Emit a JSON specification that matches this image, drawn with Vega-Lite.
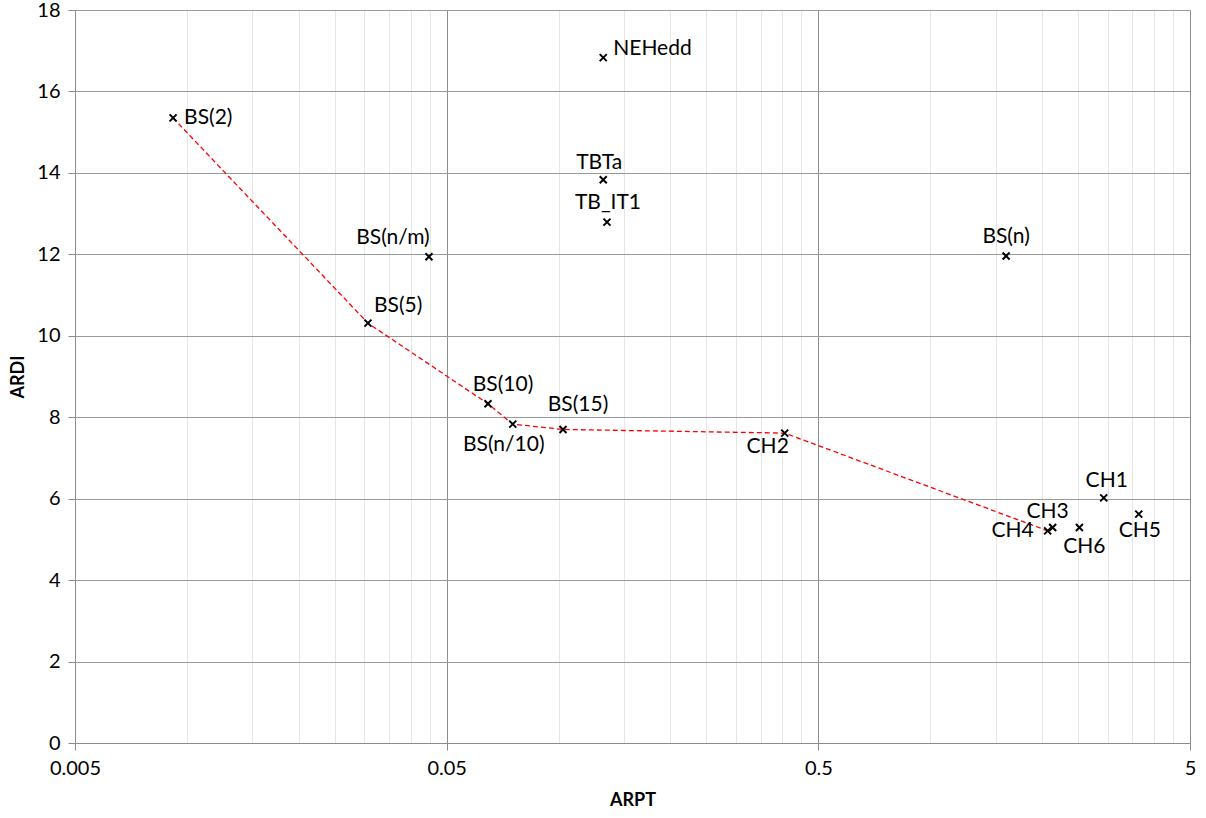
{
  "$schema": "https://vega.github.io/schema/vega-lite/v6.json",
  "width": 1115,
  "height": 733,
  "autosize": {"type": "none"},
  "padding": {"left": 75, "top": 10, "right": 16, "bottom": 75},
  "background": "white",
  "config": {
    "view": {"stroke": null},
    "font": "Lato",
    "text": {"font": "Lato", "fontSize": 21, "color": "#000000", "baseline": "middle", "align": "center"}
  },
  "data": {
    "values": [
      {"name": "BS(2)", "ARPT": 0.00918, "ARDI": 15.35},
      {"name": "BS(5)", "ARPT": 0.0307, "ARDI": 10.31},
      {"name": "BS(n/m)", "ARPT": 0.0448, "ARDI": 11.94},
      {"name": "BS(10)", "ARPT": 0.0646, "ARDI": 8.33},
      {"name": "BS(n/10)", "ARPT": 0.0753, "ARDI": 7.83},
      {"name": "BS(15)", "ARPT": 0.1028, "ARDI": 7.70},
      {"name": "NEHedd", "ARPT": 0.1319, "ARDI": 16.83},
      {"name": "TBTa", "ARPT": 0.1319, "ARDI": 13.83},
      {"name": "TB_IT1", "ARPT": 0.135, "ARDI": 12.79},
      {"name": "CH2", "ARPT": 0.406, "ARDI": 7.61},
      {"name": "BS(n)", "ARPT": 1.60, "ARDI": 11.96},
      {"name": "CH4", "ARPT": 2.07, "ARDI": 5.21},
      {"name": "CH3", "ARPT": 2.135, "ARDI": 5.29},
      {"name": "CH6", "ARPT": 2.52, "ARDI": 5.29},
      {"name": "CH1", "ARPT": 2.93, "ARDI": 6.02},
      {"name": "CH5", "ARPT": 3.64, "ARDI": 5.62}
    ]
  },
  "encoding": {
    "x": {
      "field": "ARPT", "type": "quantitative",
      "scale": {"type": "log", "domain": [0.005, 5], "nice": false, "zero": false},
      "axis": {
        "title": "ARPT",
        "titleFont": "Lato", "titleFontSize": 18, "titleFontWeight": "bold", "titleColor": "#000",
        "titleX": 557.5, "titleY": 57, "titleBaseline": "middle", "titleAlign": "center",
        "values": [0.005, 0.01, 0.015, 0.02, 0.025, 0.03, 0.035, 0.04, 0.045, 0.05, 0.1, 0.15, 0.2, 0.25, 0.3, 0.35, 0.4, 0.45, 0.5, 1, 1.5, 2, 2.5, 3, 3.5, 4, 4.5, 5],
        "labelExpr": "(datum.value == 0.005 || datum.value == 0.05 || datum.value == 0.5 || datum.value == 5) ? ('' + datum.value) : ''",
        "labelFont": "Lato", "labelFontSize": 20, "labelColor": "#000", "labelPadding": 8,
        "labelOverlap": false, "labelFlush": false, "labelBound": false,
        "grid": true,
        "gridColor": {"condition": {"test": "datum.value == 0.005 || datum.value == 0.05 || datum.value == 0.5 || datum.value == 5", "value": "#8c8c8c"}, "value": "#e6e6e6"},
        "gridWidth": 1,
        "tickColor": "#8c8c8c", "tickSize": 7,
        "tickOpacity": {"condition": {"test": "datum.value == 0.005 || datum.value == 0.05 || datum.value == 0.5 || datum.value == 5", "value": 1}, "value": 0},
        "domainColor": "#8c8c8c"
      }
    },
    "y": {
      "field": "ARDI", "type": "quantitative",
      "scale": {"domain": [0, 18], "nice": false},
      "axis": {
        "title": "ARDI",
        "titleFont": "Lato", "titleFontSize": 18, "titleFontWeight": "bold", "titleColor": "#000",
        "titleX": -57, "titleY": 366.5, "titleBaseline": "middle", "titleAlign": "center",
        "values": [0, 2, 4, 6, 8, 10, 12, 14, 16, 18],
        "labelFont": "Lato", "labelFontSize": 20, "labelColor": "#000", "labelPadding": 8,
        "labelOverlap": false, "labelFlush": false,
        "grid": true, "gridColor": "#9a9a9a", "gridWidth": 1,
        "tickColor": "#8c8c8c", "tickSize": 7,
        "domainColor": "#8c8c8c"
      }
    }
  },
  "layer": [
    {
      "transform": [{"filter": {"field": "name", "oneOf": ["BS(2)", "BS(5)", "BS(10)", "BS(n/10)", "BS(15)", "CH2", "CH4"]}}],
      "mark": {"type": "line", "color": "#ff0000", "strokeWidth": 1.3, "strokeDash": [5, 3]},
      "encoding": {}
    },
    {
      "mark": {"type": "point", "shape": "M-1,-1L1,1M-1,1L1,-1", "filled": false, "stroke": "#000000", "strokeWidth": 2, "size": 49, "opacity": 1}
    },
    {"transform": [{"filter": "datum.name == 'BS(2)'"}], "mark": {"type": "text", "align": "left", "dx": 11, "dy": 0}, "encoding": {"text": {"field": "name"}}},
    {"transform": [{"filter": "datum.name == 'NEHedd'"}], "mark": {"type": "text", "align": "left", "dx": 10, "dy": -9}, "encoding": {"text": {"field": "name"}}},
    {"transform": [{"filter": "datum.name == 'BS(5)'"}], "mark": {"type": "text", "align": "left", "dx": 6, "dy": -17}, "encoding": {"text": {"field": "name"}}},
    {"transform": [{"filter": "datum.name == 'BS(10)'"}], "mark": {"type": "text", "dx": 15, "dy": -19}, "encoding": {"text": {"field": "name"}}},
    {"transform": [{"filter": "datum.name == 'BS(15)'"}], "mark": {"type": "text", "dx": 15, "dy": -24}, "encoding": {"text": {"field": "name"}}},
    {"transform": [{"filter": "datum.name == 'BS(n/m)'"}], "mark": {"type": "text", "dx": -36, "dy": -19}, "encoding": {"text": {"field": "name"}}},
    {"transform": [{"filter": "datum.name == 'TBTa'"}], "mark": {"type": "text", "dx": -4, "dy": -17}, "encoding": {"text": {"field": "name"}}},
    {"transform": [{"filter": "datum.name == 'TB_IT1'"}], "mark": {"type": "text", "dx": 1, "dy": -19}, "encoding": {"text": {"field": "name"}}},
    {"transform": [{"filter": "datum.name == 'BS(n)'"}], "mark": {"type": "text", "dx": 0, "dy": -19}, "encoding": {"text": {"field": "name"}}},
    {"transform": [{"filter": "datum.name == 'CH3'"}], "mark": {"type": "text", "dx": -5, "dy": -16}, "encoding": {"text": {"field": "name"}}},
    {"transform": [{"filter": "datum.name == 'CH1'"}], "mark": {"type": "text", "dx": 3, "dy": -17}, "encoding": {"text": {"field": "name"}}},
    {"transform": [{"filter": "datum.name == 'CH4'"}], "mark": {"type": "text", "align": "right", "dx": -14, "dy": 0}, "encoding": {"text": {"field": "name"}}},
    {"transform": [{"filter": "datum.name == 'CH6'"}], "mark": {"type": "text", "dx": 5, "dy": 19}, "encoding": {"text": {"field": "name"}}},
    {"transform": [{"filter": "datum.name == 'CH5'"}], "mark": {"type": "text", "dx": 1, "dy": 17}, "encoding": {"text": {"field": "name"}}},
    {"transform": [{"filter": "datum.name == 'BS(n/10)'"}], "mark": {"type": "text", "dx": -9, "dy": 21}, "encoding": {"text": {"field": "name"}}},
    {"transform": [{"filter": "datum.name == 'CH2'"}], "mark": {"type": "text", "dx": -17, "dy": 14}, "encoding": {"text": {"field": "name"}}}
  ]
}
